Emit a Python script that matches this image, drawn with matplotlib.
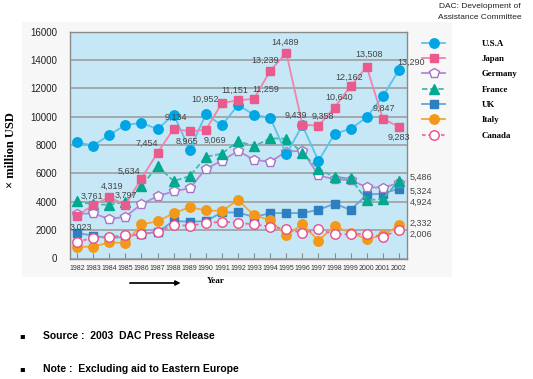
import matplotlib
matplotlib.use('Agg')
import matplotlib.pyplot as plt
from matplotlib.patches import Rectangle

# ODA net disbursements, million USD
years = list(range(1982, 2003))
usa = [8202, 7950, 8711, 9403, 9564, 9115, 10141, 7676, 10166, 9380, 10815,
       10123, 9927, 7367, 9377, 6878, 8786, 9145, 9955, 11429, 13290]
japan = [3023, 3761, 4319, 3797, 5634, 7454, 9134, 8965, 9069, 10952, 11151,
         11259, 13239, 14489, 9439, 9358, 10640, 12162, 13508, 9847, 9283]
germany = [3152, 3176, 2782, 2942, 3832, 4391, 4731, 4949, 6320, 6890, 7583,
           6954, 6818, 7524, 7601, 5857, 5581, 5515, 5030, 4990, 5324]
france = [4034, 3815, 3788, 3995, 5105, 6525, 5460, 5800, 7163, 7386, 8270,
          7915, 8466, 8443, 7451, 6307, 5742, 5639, 4105, 4198, 5486]
uk = [1800, 1610, 1430, 1530, 1737, 1871, 2645, 2587, 2638, 3248, 3243,
      2920, 3197, 3202, 3199, 3433, 3864, 3426, 4501, 4579, 4924]
italy = [811, 834, 1133, 1098, 2403, 2615, 3193, 3613, 3395, 3347, 4122,
         3043, 2705, 1623, 2416, 1266, 2278, 1806, 1376, 1627, 2332]
canada = [1197, 1429, 1535, 1631, 1695, 1885, 2347, 2320, 2470, 2604, 2515,
          2400, 2250, 2067, 1795, 2045, 1707, 1706, 1744, 1533, 2006]

# label offsets for the Japan values, in pixels (dx right, dy down)
jp_offsets = [(4, 12), (-1.5, -9), (3, -11), (1, -9), (-12, -7), (-11, -9),
              (2.5, -12), (-3, 10), (9, 10.5), (-17, -4), (-3.5, -10),
              (12, -9), (-5, -10), (-1.5, -11), (-7, -9), (4, -9), (5, -10),
              (-2, -9), (2, -13), (1, -10), (0, 11)]

W, H = 533, 379
PX = 0.72  # points per pixel at 100 dpi

fig = plt.figure(figsize=(W / 100, H / 100), dpi=100)
fig.patch.set_facecolor('white')

# faint grey panel behind the chart
fig.add_artist(Rectangle((22 / W, (H - 277) / H), 430 / W, 255 / H,
                         transform=fig.transFigure, facecolor='#f7f7f7',
                         edgecolor='none', zorder=0))

ax = fig.add_axes([70 / W, (H - 258.5) / H, 337 / W, 227 / H])
ax.set_facecolor('#c6e7f6')

series = [
    ('U.S.A', usa, dict(marker='o', ms=6.8, color='#5cc2ec', mfc='#00a6e4', mec='#00a6e4', ls='-', zorder=8)),
    ('Japan', japan, dict(marker='s', ms=6.2, color='#f283ab', mfc='#ea5a8c', mec='#ea5a8c', ls='-', zorder=9)),
    ('Germany', germany, dict(marker='p', ms=7.2, color='#b48ad2', mfc='white', mec='#a873c8', ls='-', zorder=6)),
    ('France', france, dict(marker='^', ms=7.2, color='#3cbcaa', mfc='#00a98f', mec='#00a98f', ls=(0, (3, 1.5)), zorder=7)),
    ('UK', uk, dict(marker='s', ms=6.2, color='#6aa3d6', mfc='#2e7fc1', mec='#2e7fc1', ls='-', zorder=3)),
    ('Italy', italy, dict(marker='o', ms=6.8, color='#f5a53a', mfc='#f39819', mec='#f39819', ls='-', zorder=4)),
    ('Canada', canada, dict(marker='o', ms=6.8, color='#ee6ba0', mfc='white', mec='#ea4c8c', ls=(0, (2, 1.5)), zorder=5)),
]

handles = []
for name, vals, st in series:
    line, = ax.plot(years, vals, lw=1.3, mew=1.0, label=name, **st)
    handles.append(line)

ax.set_xlim(1981.56, 2002.5)
ax.set_ylim(0, 16000)
ax.set_xticks(years)
ax.set_xticklabels([str(y) for y in years], fontsize=5.0,
                   family='Liberation Sans', color='#333333')
ax.set_yticks(range(0, 16001, 2000))
ax.set_yticklabels([str(v) for v in range(0, 16001, 2000)], fontsize=7,
                   family='Liberation Sans', color='#222222')
ax.tick_params(axis='x', direction='in', length=4, width=0.8, color='#8a8a8a', pad=5)
ax.tick_params(axis='y', length=0, pad=9)
ax.grid(axis='y', color='#9a9a9a', lw=1.1)
ax.set_axisbelow(True)
for sp in ax.spines.values():
    sp.set_color('#8a8a8a')
    sp.set_linewidth(1.0)

lbl = dict(textcoords='offset points', fontsize=6.5, color='#444444',
           family='Liberation Sans', zorder=12)

for yr, v, (dx, dy) in zip(years, japan, jp_offsets):
    ax.annotate(f'{v:,}', (yr, v), xytext=(dx * PX, -dy * PX),
                ha='center', va='center', **lbl)

ax.annotate(f'{usa[-1]:,}', (years[-1], usa[-1]), xytext=(12 * PX, 8 * PX),
            ha='center', va='center', annotation_clip=False, **lbl)

# values at the right end
right_labels = [(france, -3), (germany, 8), (uk, 14), (italy, -2.6), (canada, 4.5)]
for vals, dy in right_labels:
    ax.annotate(f'{vals[-1]:,}', (years[-1], vals[-1]), xytext=(11 * PX, -dy * PX),
                ha='left', va='center', annotation_clip=False, **lbl)

fig.legend(handles, [h.get_label() for h in handles], loc='upper left',
           bbox_to_anchor=(422 / W, (H - 39.5) / H), frameon=False, borderpad=0,
           borderaxespad=0, handlelength=2.6, handletextpad=4.1,
           labelspacing=0.8, numpoints=1,
           prop=dict(family='Liberation Serif', weight='bold', size=6.4))

fig.text(480 / W, (H - 6) / H, 'DAC: Development of', ha='center', va='center',
         fontsize=6, family='Liberation Sans', color='#222222')
fig.text(480 / W, (H - 17.5) / H, 'Assistance Committee', ha='center', va='center',
         fontsize=6, family='Liberation Sans', color='#222222')

fig.text(11 / W, (H - 150) / H, '\u00d7 million USD', rotation=90, ha='center',
         va='center', fontsize=9, family='Liberation Serif', weight='bold')

fig.text(216 / W, (H - 281) / H, 'Year', ha='center', va='center', fontsize=6.5,
         family='Liberation Serif', weight='bold')
fig.add_artist(plt.annotate('', xy=(183 / W, (H - 283) / H), xytext=(127 / W, (H - 283) / H),
                            xycoords='figure fraction', textcoords='figure fraction',
                            arrowprops=dict(arrowstyle='-|>', color='black', lw=0.9,
                                            mutation_scale=7)))

for ypx, txt in [(336, 'Source :  2003  DAC Press Release'),
                 (369, 'Note :  Excluding aid to Eastern Europe')]:
    fig.text(22 / W, (H - ypx) / H, '\u25aa', ha='center', va='center', fontsize=6,
             family='DejaVu Sans')
    fig.text(43 / W, (H - ypx) / H, txt, ha='left', va='center', fontsize=7.5,
             family='Liberation Sans', weight='bold')

fig.savefig('out.png', dpi=100)
